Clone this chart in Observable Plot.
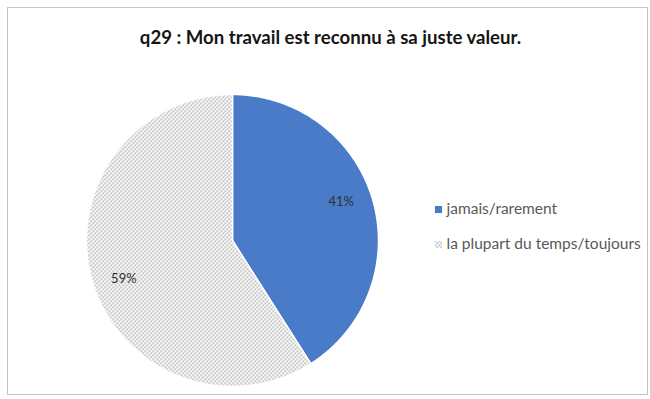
<!DOCTYPE html>
<html><head><meta charset="utf-8">
<script src="https://cdn.jsdelivr.net/npm/d3@7"></script>
<script src="https://cdn.jsdelivr.net/npm/@observablehq/plot@0.6"></script>
<style>
body{margin:0;background:#fff;font-family:Lato,"Open Sans",sans-serif;}
#wrap{position:relative;width:650px;height:399px;overflow:hidden;background:#fff;}
#frame{position:absolute;left:7px;top:7px;width:641px;height:388px;border:1px solid #c4c4c4;box-sizing:border-box;}
#title{position:absolute;left:0;width:661px;top:26px;line-height:22px;text-align:center;font-weight:bold;font-size:18.6px;color:#151515;}
#chart{position:absolute;left:0;top:62px;}
</style></head><body>
<svg width="0" height="0" style="position:absolute">
  <defs>
    <pattern id="dots" width="4" height="4" patternUnits="userSpaceOnUse">
      <rect width="4" height="4" fill="#ffffff"/>
      <rect x="0" y="0" width="1.5" height="1.5" fill="#9c9c9c"/>
      <rect x="2" y="2" width="1.5" height="1.5" fill="#9c9c9c"/>
    </pattern>
  </defs>
</svg>
<div id="wrap"><div id="frame"></div><div id="title"></div><div id="chart"></div></div>
<script>
const title = "q29 : Mon travail est reconnu à sa juste valeur.";
const categories = ["jamais/rarement", "la plupart du temps/toujours"];
const values = [41, 59];
const labels = ["41%", "59%"];
const fills = ["#4a7bc8", "url(#dots)"];

document.getElementById("title").textContent = title;

const W = 650, H = 337;
const cx = 232, cy = 178, R = 146;
const arcs = d3.pie().sort(null)(values);

const slicePts = arcs.map((a) => {
  const pts = [{x: cx, y: cy}];
  const n = Math.max(2, Math.ceil((a.endAngle - a.startAngle) / 0.01));
  for (let k = 0; k <= n; k++) {
    const t = a.startAngle + (a.endAngle - a.startAngle) * k / n;
    pts.push({x: cx + R * Math.sin(t), y: cy - R * Math.cos(t)});
  }
  pts.push({x: cx, y: cy});
  return pts;
});

const labelData = arcs.map((a, i) => {
  const m = (a.startAngle + a.endAngle) / 2 - 0.06;
  const rr = R * 0.79;
  return {x: cx + rr * Math.sin(m), y: cy - rr * Math.cos(m), text: labels[i]};
});

const legend = categories.map((c, i) => ({x: 438, y: 147 + i * 35, name: c, fill: fills[i]}));

const marks = [];
slicePts.forEach((pts, i) => {
  marks.push(Plot.line(pts, {x: "x", y: "y", fill: fills[i], stroke: "white", strokeWidth: 1.5, curve: "linear"}));
});
marks.push(Plot.text(labelData, {x: "x", y: "y", text: "text", fill: "#303030", fontSize: 13}));
marks.push(Plot.dot(legend, {x: "x", y: "y", symbol: "square", r: 4, fill: "fill", stroke: null}));
marks.push(Plot.text(legend, {x: (d) => d.x + 8, y: "y", text: "name", textAnchor: "start", fill: "#595959", fontSize: 15.5}));

const chart = Plot.plot({
  width: W, height: H,
  margin: 0,
  x: {type: "linear", domain: [0, W], range: [0, W], axis: null},
  y: {type: "linear", domain: [0, H], range: [0, H], axis: null},
  color: {type: "identity"},
  style: {fontFamily: "Lato, 'Open Sans', sans-serif", background: "transparent"},
  marks
});
document.getElementById("chart").appendChild(chart);
</script>
</body></html>
